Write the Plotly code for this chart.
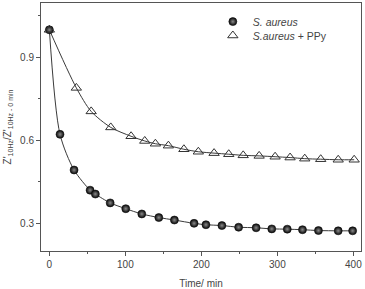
import plotly.graph_objects as go

# S. aureus (spheres)
t_sa = [0, 14, 32.5, 53.6, 60.5, 80, 100.5, 121.6, 144, 164.5, 190.4, 206, 227, 249, 272, 292.6, 313, 333, 354, 380, 399]
z_sa = [1.0, 0.622, 0.493, 0.42, 0.406, 0.374, 0.353, 0.334, 0.321, 0.312, 0.300, 0.295, 0.292, 0.286, 0.284, 0.280, 0.279, 0.277, 0.274, 0.273, 0.273]

# S. aureus + PPy (triangles)
t_ppy = [0, 35.5, 55, 80.8, 107.5, 125.5, 139.5, 156.6, 177, 196, 216.7, 236, 255, 276, 297, 316.7, 336, 357, 380, 401]
z_ppy = [1.0, 0.79, 0.705, 0.647, 0.615, 0.598, 0.588, 0.581, 0.568, 0.559, 0.554, 0.550, 0.546, 0.544, 0.541, 0.538, 0.534, 0.532, 0.530, 0.530]

x_ticks = [0, 100, 200, 300, 400]
y_ticks = [0.3, 0.6, 0.9]

LINE = "#3a3a3a"
AX = "#555555"
TXT = "#444444"

fig = go.Figure()
# fitted curves (drawn under the markers)
fig.add_trace(go.Scatter(
    x=t_sa, y=z_sa, mode="lines", showlegend=False, hoverinfo="skip",
    line=dict(color=LINE, width=1, shape="spline", smoothing=0.8),
))
fig.add_trace(go.Scatter(
    x=t_ppy, y=z_ppy, mode="lines", showlegend=False, hoverinfo="skip",
    line=dict(color=LINE, width=1, shape="spline", smoothing=0.8),
))
fig.add_trace(go.Scatter(
    x=t_sa, y=z_sa, mode="markers", name="<i>S. aureus</i>", legend="legend",
    marker=dict(symbol="circle", size=8, color="#050505",
                gradient=dict(type="radial", color="#8a8a8a"),
                line=dict(color="#111111", width=0.6)),
))
fig.add_trace(go.Scatter(
    x=t_ppy, y=z_ppy, mode="markers", name="<i>S.aureus</i> + PPy", legend="legend2",
    marker=dict(symbol="triangle-up-open", size=9, color="#333333",
                line=dict(color="#333333", width=1)),
))

leg_common = dict(x=0.537, xanchor="left", yanchor="middle",
                  bgcolor="rgba(0,0,0,0)", font=dict(size=10.5, color=TXT))

fig.update_layout(
    width=365, height=289,
    margin=dict(l=41, r=4, t=2, b=35),
    paper_bgcolor="white", plot_bgcolor="white",
    font=dict(family="Liberation Sans, Arial, sans-serif", size=10, color=TXT),
    showlegend=True,
    legend=dict(y=0.925, **leg_common),
    legend2=dict(y=0.869, **leg_common),
)
fig.update_xaxes(
    range=[-11, 410], tickvals=x_ticks, ticks="outside", ticklen=4,
    tickcolor=AX, linecolor=AX, linewidth=1, mirror=True, showgrid=False,
    zeroline=False, tickfont=dict(size=10, color=TXT),
    minor=dict(ticks="outside", ticklen=2, tickcolor=AX, dtick=50, tick0=0, showgrid=False),
    title=dict(text="Time/ min", font=dict(size=10, color=TXT), standoff=10),
)
fig.update_yaxes(
    range=[0.2, 1.097], tickvals=y_ticks, ticks="outside", ticklen=4,
    tickcolor=AX, linecolor=AX, linewidth=1, mirror=True, showgrid=False,
    zeroline=False, tickfont=dict(size=10, color=TXT),
    minor=dict(ticks="outside", ticklen=2, tickcolor=AX, dtick=0.15, tick0=0, showgrid=False),
    title=dict(text="Z'<sub>10Hz</sub>/Z'<sub>10Hz - 0 min</sub>", font=dict(size=10, color=TXT), standoff=6),
)

fig.write_html("out.html")
